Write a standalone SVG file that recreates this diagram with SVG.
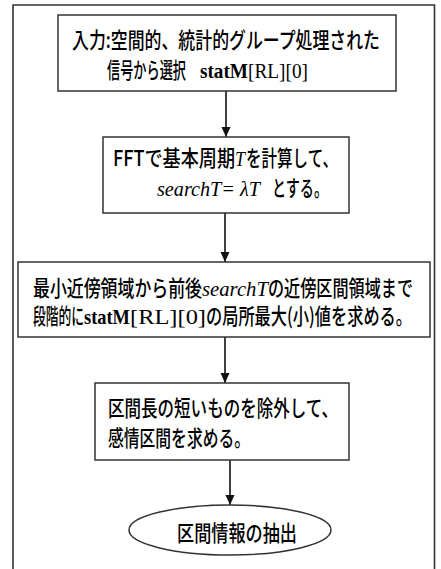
<svg xmlns="http://www.w3.org/2000/svg" width="441" height="569" viewBox="0 0 441 569">
<style>
.box{fill:#fff;stroke:#333;stroke-width:1.5}
.frame{fill:none;stroke:#333;stroke-width:1.6}
.jp{font-family:"Noto Sans CJK JP","Liberation Sans",sans-serif;font-size:22px;fill:#000;font-weight:500}
.sr{font-family:"Liberation Serif",serif;font-size:21px;fill:#000;font-weight:normal}
.it{font-style:italic}
.bd{font-weight:bold}
.conn{stroke:#111;stroke-width:1.6;fill:none;marker-end:url(#ah)}
</style>
<defs>
<marker id="ah" markerUnits="userSpaceOnUse" markerWidth="10" markerHeight="12" refX="10" refY="4.5" orient="auto">
<path d="M0,0 L10,4.5 L0,9 z" fill="#111"/>
</marker>
</defs>
<rect width="441" height="569" fill="#fff"/>
<path class="frame" d="M13,600 V5 H434.5 V600"/>
<g id="connectors">
<line class="conn" x1="226" y1="91" x2="226" y2="137"/>
<line class="conn" x1="225" y1="213" x2="225" y2="262"/>
<line class="conn" x1="225" y1="337" x2="225" y2="383"/>
<line class="conn" x1="230" y1="460" x2="230" y2="505"/>
</g>
<g id="n1">
<rect class="box" x="58" y="15" width="338" height="76"/>
<text class="jp" x="72" y="48" textLength="308" lengthAdjust="spacingAndGlyphs">入力:空間的、統計的グループ処理された</text>
<text class="jp" y="78"><tspan x="107" textLength="79" lengthAdjust="spacingAndGlyphs">信号から選択</tspan><tspan class="sr bd" x="200" textLength="48" lengthAdjust="spacingAndGlyphs">statM</tspan><tspan class="sr" x="248" textLength="60" lengthAdjust="spacingAndGlyphs">[RL][0]</tspan></text>
</g>
<g id="n2">
<rect class="box" x="103" y="137" width="246" height="76"/>
<text class="jp" y="166"><tspan x="113" textLength="122" lengthAdjust="spacingAndGlyphs">FFTで基本周期</tspan><tspan class="sr it" x="235" textLength="10" lengthAdjust="spacingAndGlyphs">T</tspan><tspan x="246" textLength="92" lengthAdjust="spacingAndGlyphs">を計算して、</tspan></text>
<text class="jp" y="196"><tspan class="sr it" x="157" textLength="103" lengthAdjust="spacingAndGlyphs">searchT= λT</tspan><tspan x="272" textLength="56" lengthAdjust="spacingAndGlyphs">とする。</tspan></text>
</g>
<g id="n3">
<rect class="box" x="18" y="262" width="412" height="75"/>
<text class="jp" y="296"><tspan x="33" textLength="169" lengthAdjust="spacingAndGlyphs">最小近傍領域から前後</tspan><tspan class="sr it" x="202" textLength="66" lengthAdjust="spacingAndGlyphs">searchT</tspan><tspan x="268" textLength="145" lengthAdjust="spacingAndGlyphs">の近傍区間領域まで</tspan></text>
<text class="jp" y="324"><tspan x="33" textLength="51" lengthAdjust="spacingAndGlyphs">段階的に</tspan><tspan class="sr bd" x="84" textLength="46" lengthAdjust="spacingAndGlyphs">statM</tspan><tspan class="sr" x="130" textLength="76" lengthAdjust="spacingAndGlyphs">[RL][0]</tspan><tspan x="206" textLength="206" lengthAdjust="spacingAndGlyphs">の局所最大(小)値を求める。</tspan></text>
</g>
<g id="n4">
<rect class="box" x="95" y="383" width="254" height="77"/>
<text class="jp" x="108" y="416" textLength="230" lengthAdjust="spacingAndGlyphs">区間長の短いものを除外して、</text>
<text class="jp" x="108" y="446" textLength="142" lengthAdjust="spacingAndGlyphs">感情区間を求める。</text>
</g>
<g id="n5">
<ellipse class="box" cx="230" cy="530" rx="101" ry="25"/>
<text class="jp" x="177" y="541" textLength="120" lengthAdjust="spacingAndGlyphs">区間情報の抽出</text>
</g>
</svg>
